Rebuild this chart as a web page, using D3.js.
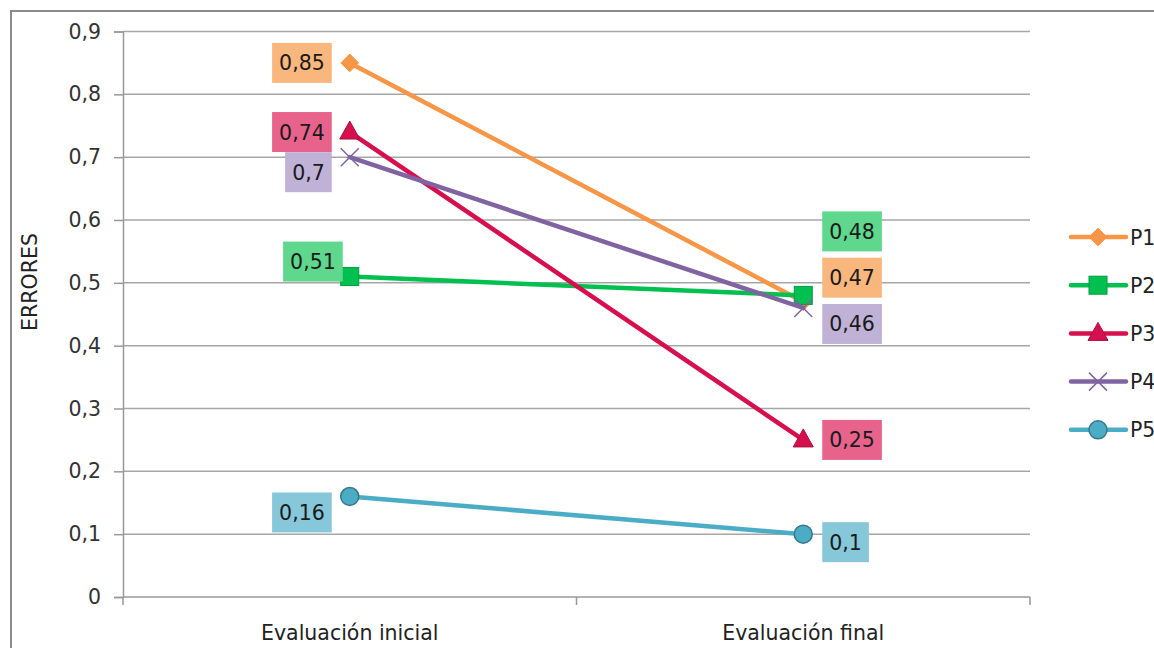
<!DOCTYPE html>
<html><head><meta charset="utf-8">
<script src="https://cdn.jsdelivr.net/npm/d3@7/dist/d3.min.js"></script>
<style>
html,body{margin:0;padding:0;background:#fff;overflow:hidden;}
text{font-family:"DejaVu Sans",Verdana,sans-serif;}
</style></head>
<body>
<svg id="c" width="1154" height="648"></svg>
<script>
const categories = ["Evaluación inicial", "Evaluación final"];
const seriesNames = ["P1", "P2", "P3", "P4", "P5"];
const valuesInicial = [0.85, 0.51, 0.74, 0.70, 0.16];
const valuesFinal = [0.47, 0.48, 0.25, 0.46, 0.10];
const yTicks = [0, 0.1, 0.2, 0.3, 0.4, 0.5, 0.6, 0.7, 0.8, 0.9];
const yTitle = "ERRORES";

// styling
const lineColors = ["#F79646", "#00C050", "#D60F4E", "#8064A2", "#4BACC6"];
const labelBg = ["#F9B77E", "#5FD78C", "#E8638C", "#BFB2D6", "#86C7D9"];
const markerTypes = ["diamond", "square", "triangle", "x", "circle"];
// label vertical nudges (px) to avoid overlap: [initial, final]
const labelNudge = [[0, -24], [-15, -64], [0, 0], [15, 16], [16, 8]];
const FS = 20.5;

const svg = d3.select("#c");
const fmt = v => String(+v.toFixed(2)).replace(".", ",");

// outer frame
svg.append("rect").attr("x", 11).attr("y", 11).attr("width", 1200).attr("height", 700)
  .attr("fill", "none").attr("stroke", "#8c8c8c").attr("stroke-width", 2);

const x = d3.scaleBand().domain(categories).range([123, 1030]).paddingInner(0).paddingOuter(0);
const y = d3.scaleLinear().domain([0, 0.9]).range([597, 31.5]);
const cx = c => x(c) + x.bandwidth() / 2;

// gridlines
svg.append("g").selectAll("line").data(yTicks.filter(t => t > 0)).join("line")
  .attr("x1", 123).attr("x2", 1030).attr("y1", d => y(d)).attr("y2", d => y(d))
  .attr("stroke", "#a6a6a6").attr("stroke-width", 1.5);

// y axis
const yAxis = d3.axisLeft(y).tickValues(yTicks).tickSize(9).tickPadding(13).tickFormat(fmt);
const gy = svg.append("g").attr("transform", "translate(123,0)").call(yAxis);
gy.select(".domain").attr("stroke", "#999").attr("stroke-width", 1.5);
gy.selectAll(".tick line").attr("stroke", "#999").attr("stroke-width", 1.5);
gy.selectAll(".tick text").attr("font-size", FS).attr("fill", "#333")
  .attr("font-family", "DejaVu Sans, sans-serif");

// x axis
const gx = svg.append("g").attr("transform", "translate(0,597)");
gx.append("line").attr("x1", 123).attr("x2", 1030).attr("stroke", "#999").attr("stroke-width", 1.5);
const xTickPos = [123].concat(categories.map(c => x(c) + x.bandwidth()));
gx.selectAll("line.t").data(xTickPos).join("line").attr("class", "t")
  .attr("x1", d => d).attr("x2", d => d).attr("y1", 0).attr("y2", 8)
  .attr("stroke", "#999").attr("stroke-width", 1.5);
gx.selectAll("text").data(categories).join("text")
  .attr("x", d => cx(d)).attr("y", 43).attr("text-anchor", "middle")
  .attr("font-size", FS).attr("fill", "#222").text(d => d);

// y title
svg.append("text").attr("transform", "translate(37,282) rotate(-90)")
  .attr("text-anchor", "middle").attr("font-size", FS).attr("fill", "#222").text(yTitle);

// markers
function marker(g, type, color) {
  const dark = d3.color(color).darker(0.6);
  if (type === "diamond") {
    g.append("path").attr("d", d3.symbol(d3.symbolDiamond2, 200)()).attr("fill", color).attr("stroke", color);
  } else if (type === "square") {
    g.append("rect").attr("x", -9).attr("y", -9).attr("width", 18).attr("height", 18)
      .attr("fill", color).attr("stroke", dark).attr("stroke-width", 1);
  } else if (type === "triangle") {
    g.append("path").attr("d", "M0,-11L10,7L-10,7Z").attr("fill", color).attr("stroke", dark).attr("stroke-width", 1);
  } else if (type === "x") {
    g.append("path").attr("d", "M-9,-9L9,9M-9,9L9,-9").attr("stroke", color).attr("stroke-width", 1.5).attr("fill", "none");
  } else if (type === "circle") {
    g.append("circle").attr("r", 9).attr("fill", color).attr("stroke", d3.color(color).darker(1)).attr("stroke-width", 1.5);
  }
}

const series = seriesNames.map((n, i) => ({
  name: n, i, pts: [{c: categories[0], v: valuesInicial[i]}, {c: categories[1], v: valuesFinal[i]}]
}));

const line = d3.line().x(d => cx(d.c)).y(d => y(d.v));
series.forEach(s => {
  const g = svg.append("g");
  g.append("path").attr("d", line(s.pts)).attr("fill", "none")
    .attr("stroke", lineColors[s.i]).attr("stroke-width", 4.5).attr("stroke-linecap", "round");
  s.pts.forEach(p => {
    const m = g.append("g").attr("transform", `translate(${cx(p.c)},${y(p.v)})`);
    marker(m, markerTypes[s.i], lineColors[s.i]);
  });
});

// data labels
series.forEach(s => {
  s.pts.forEach((p, k) => {
    const g = svg.append("g");
    const t = g.append("text").attr("font-size", FS).attr("fill", "#1a1a1a").text(fmt(p.v));
    const tw = t.node().getComputedTextLength();
    const bw = tw + 14, bh = 40;
    const cyy = y(p.v) + labelNudge[s.i][k];
    let bx;
    if (k === 0) bx = cx(p.c) - 18 - bw + (s.i === 1 ? 11 : 0);
    else bx = cx(p.c) + 19;
    g.insert("rect", "text").attr("x", bx).attr("y", cyy - bh / 2).attr("width", bw).attr("height", bh)
      .attr("fill", labelBg[s.i]);
    t.attr("x", bx + 7).attr("y", cyy + 7.5);
  });
});

// legend
const lg = svg.append("g");
seriesNames.forEach((n, i) => {
  const ly = 237 + i * 48.2;
  const g = lg.append("g");
  g.append("line").attr("x1", 1071).attr("x2", 1126).attr("y1", ly).attr("y2", ly)
    .attr("stroke", lineColors[i]).attr("stroke-width", 4.5).attr("stroke-linecap", "round");
  const m = g.append("g").attr("transform", `translate(1098,${ly})`);
  marker(m, markerTypes[i], lineColors[i]);
  g.append("text").attr("x", 1130).attr("y", ly + 7.5).attr("font-size", FS).attr("fill", "#222").text(n);
});
</script>
</body></html>
